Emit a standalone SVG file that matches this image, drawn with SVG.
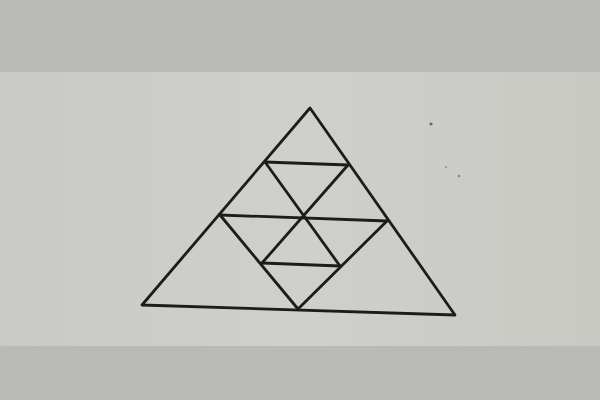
<svg xmlns="http://www.w3.org/2000/svg" width="600" height="400" viewBox="0 0 600 400">
  <defs>
    <linearGradient id="paper" x1="0" y1="0" x2="1" y2="0">
      <stop offset="0" stop-color="#c9cac5"/>
      <stop offset="0.5" stop-color="#cfd0cb"/>
      <stop offset="1" stop-color="#c8c9c3"/>
    </linearGradient>
    <style>
      .ln { stroke: #1c1c1c; stroke-width: 2.8; fill: none; stroke-linecap: round; stroke-linejoin: round; }
    </style>
  </defs>
  <rect x="0" y="0" width="600" height="400" fill="#b9bab5"/>
  <rect x="0" y="72" width="600" height="274" fill="url(#paper)"/>
  <circle cx="431" cy="124" r="1.6" fill="#6a6a66"/>
  <circle cx="446" cy="167" r="1" fill="#8a8a86"/>
  <circle cx="459" cy="176" r="1.2" fill="#80807c"/>
  <g id="outer">
    <polygon class="ln" points="310,108 142,305 455,315"/>
  </g>
  <g id="connectors">
    <line class="ln" x1="265" y1="162" x2="348" y2="165"/>
    <line class="ln" x1="220" y1="215" x2="387" y2="221"/>
    <line class="ln" x1="262" y1="263" x2="340" y2="266"/>
    <line class="ln" x1="265" y1="162" x2="340" y2="266"/>
    <line class="ln" x1="348" y1="165" x2="262" y2="263"/>
    <line class="ln" x1="220" y1="215" x2="298" y2="309"/>
    <line class="ln" x1="387" y1="221" x2="298" y2="309"/>
  </g>
</svg>
